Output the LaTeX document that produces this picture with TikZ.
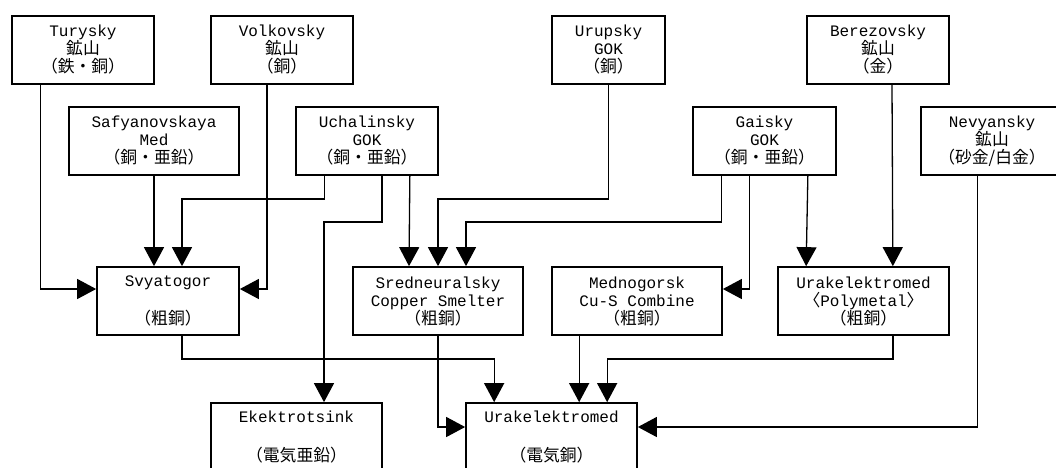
\documentclass[tikz,border=0pt]{standalone}
\usepackage{fontspec}
\setmainfont{Liberation Mono}
\newfontfamily\cjk[Scale=1.05]{Noto Sans CJK JP}
\usetikzlibrary{calc, arrows.meta}

\begin{document}
\begin{tikzpicture}
  [x=1pt, y=-1pt,
   box/.style = {draw=black, line width=1.7pt, rectangle, inner sep=0pt,
     minimum width=#1, minimum height=68pt, align=center,
     font=\fontsize{16}{18}\selectfont},
   box/.default = 142pt,
   link/.style = {line width=1.3pt, -{Triangle[length=19pt, width=20pt]}}
  ]
  \useasboundingbox (0,0) rectangle (1056,467);
  \clip (0,0) rectangle (1056,467);
  % mines
  \node[box] (tury) at (83,50) {Turysky\\{\cjk 鉱山}\\{\cjk （鉄・銅）}};
  \node[box] (volk) at (282,50) {Volkovsky\\{\cjk 鉱山}\\{\cjk （銅）}};
  \node[box=113pt] (urup) at (608.5,50) {Urupsky\\GOK\\{\cjk （銅）}};
  \node[box] (bere) at (878,50) {Berezovsky\\{\cjk 鉱山}\\{\cjk （金）}};
  \node[box=170pt] (safy) at (154,141) {Safyanovskaya\\Med\\{\cjk （銅・亜鉛）}};
  \node[box] (ucha) at (367,141) {Uchalinsky\\GOK\\{\cjk （銅・亜鉛）}};
  \node[box=143pt] (gais) at (764.5,141) {Gaisky\\GOK\\{\cjk （銅・亜鉛）}};
  \node[box] (nevy) at (992,141) {Nevyansky\\{\cjk 鉱山}\\{\cjk （砂金/白金）}};
  % smelters
  \node[box] (svya) at (168,301) {Svyatogor\\\strut\\{\cjk （粗銅）}};
  \node[box=170pt] (sred) at (438,301) {Sredneuralsky\\Copper Smelter\\{\cjk （粗銅）}};
  \node[box=170pt] (medn) at (637,301) {Mednogorsk\\Cu-S Combine\\{\cjk （粗銅）}};
  \node[box=171pt] (poly) at (863.5,301) {Urakelektromed\\{\cjk 〈}Polymetal{\cjk 〉}\\{\cjk （粗銅）}};
  % refineries
  \node[box=171pt] (ekek) at (296.5,437) {Ekektrotsink\\\strut\\{\cjk （電気亜鉛）}};
  \node[box=171pt] (ural) at (551.5,437) {Urakelektromed\\\strut\\{\cjk （電気銅）}};

  \draw[link] ($(tury.south west)+(29,0)$) |- ($(svya.west)+(0,-12)$);
  \draw[link] (safy.south) -- (safy.south |- svya.north);
  \draw[link] ($(volk.south)+(-15,0)$) |- ($(svya.east)+(0,-12)$);
  \draw[link] ($(ucha.south west)+(29,0)$) -- ++(0,23) -| ($(svya.north)+(14,0)$);
  \draw[link] ($(ucha.south)+(15,0)$) -- ++(0,46) -| ($(ekek.north)+(27.5,0)$);
  \draw[link] ($(ucha.south east)+(-29,0)$) -- ($(sred.north)+(-29,0)$);
  \draw[link] (urup.south) -- ++(0,114) -| (sred.north);
  \draw[link] ($(gais.south west)+(29,0)$) -- ++(0,46) -| ($(sred.north)+(28,0)$);
  \draw[link] ($(gais.south west)+(57,0)$) |- ($(medn.east)+(0,-12)$);
  \draw[link] ($(gais.south east)+(-29,0)$) -- ($(poly.north west)+(29,0)$);
  \draw[link] ($(bere.south)+(14,0)$) -- ($(poly.north east)+(-57,0)$);
  \draw[link] ($(nevy.south west)+(57,0)$) |- ($(ural.east)+(0,-10)$);
  \draw[link] ($(svya.south)+(14,0)$) -- ++(0,23) -| ($(ural.north west)+(29,0)$);
  \draw[link] (sred.south) |- ($(ural.west)+(0,-10)$);
  \draw[link] ($(medn.south west)+(28,0)$) -- ($(ural.north west)+(114,0)$);
  \draw[link] ($(poly.south east)+(-57,0)$) -- ++(0,23) -| ($(ural.north west)+(142,0)$);
\end{tikzpicture}
\end{document}
